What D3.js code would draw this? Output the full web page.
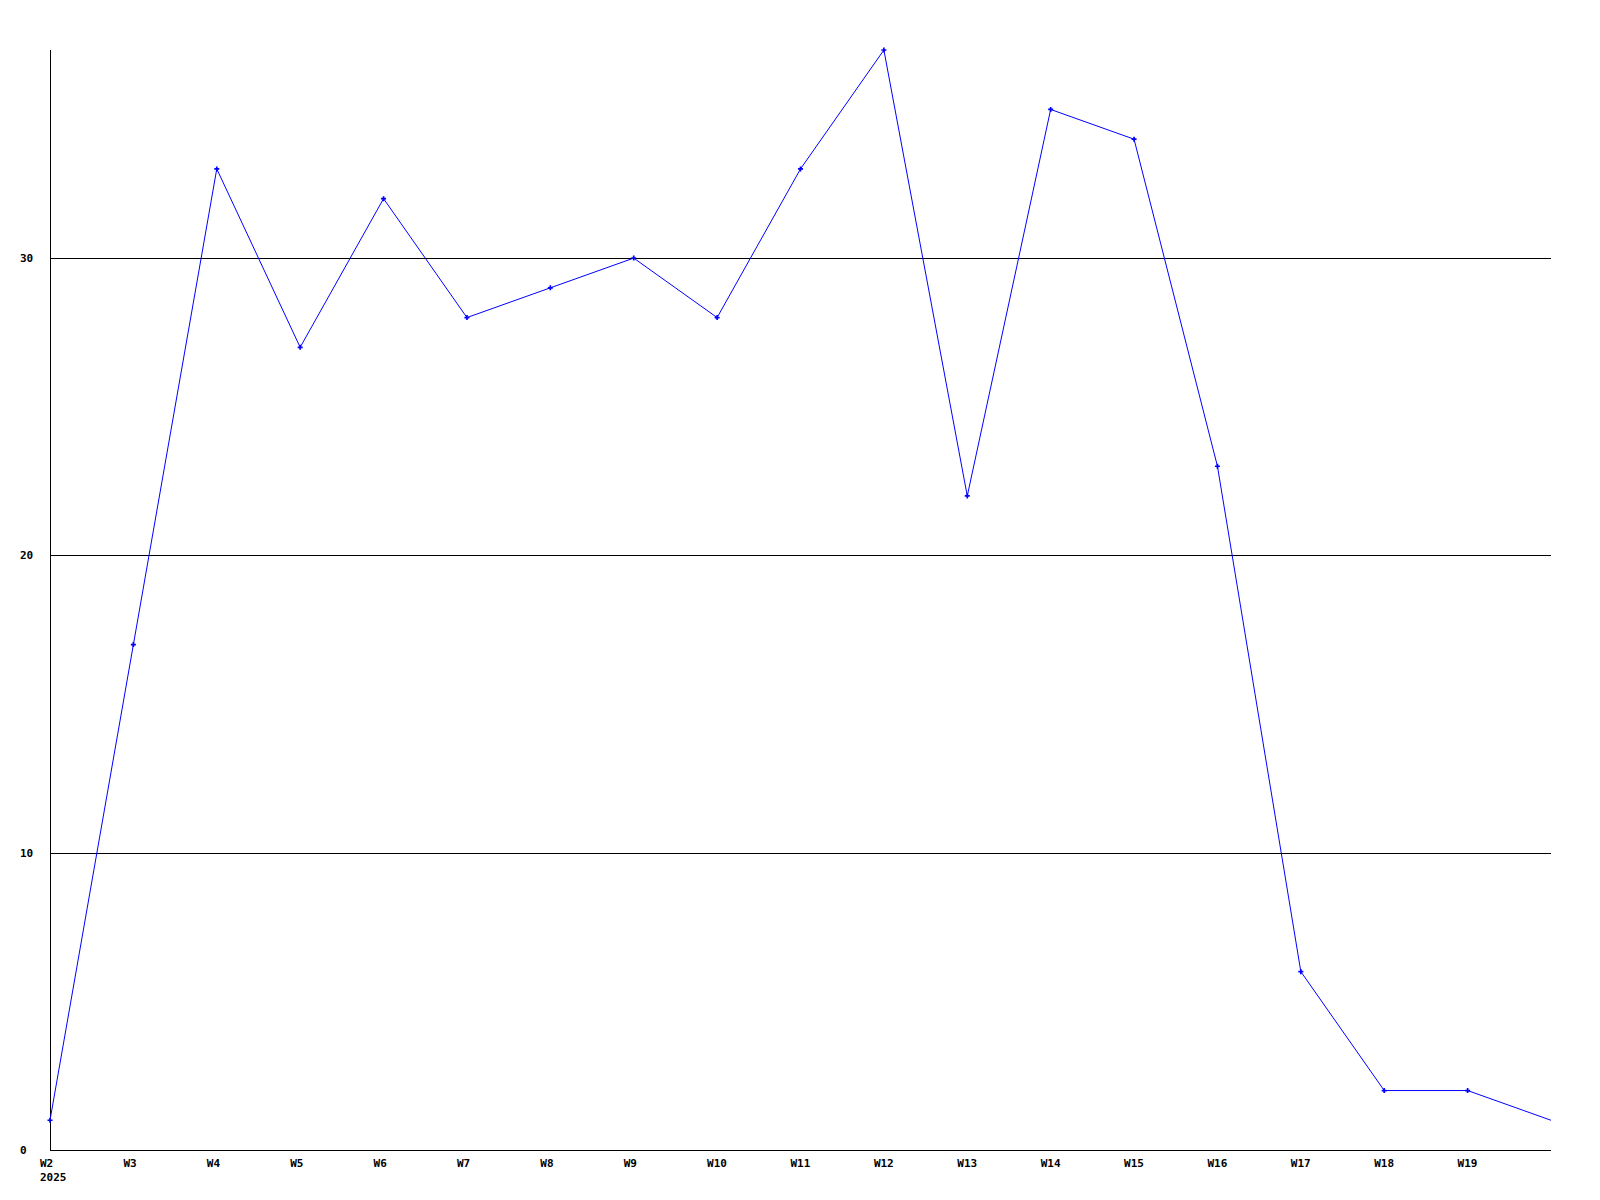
<!DOCTYPE html>
<html><head><meta charset="utf-8">
<script src="https://cdn.jsdelivr.net/npm/d3@7"></script>
<style>body{margin:0;background:#fff;} svg{display:block;}</style>
</head><body>
<script>
const weeks = ["W2","W3","W4","W5","W6","W7","W8","W9","W10","W11","W12","W13","W14","W15","W16","W17","W18","W19","W20"];
const values = [1,17,33,27,32,28,29,30,28,33,37,22,35,34,23,6,2,2,1];
const yTicks = [0,10,20,30];
const yearLabel = "2025";

const W = 1600, H = 1200;
const svg = d3.select("body").append("svg").attr("width", W).attr("height", H);
const x = d3.scalePoint().domain(weeks).range([50, 1551]);
const y = d3.scaleLinear().domain([0, 37]).range([1150, 50]);
const font = "'DejaVu Sans Mono', monospace";
const fs = 11;

// gridlines
svg.append("g").selectAll("line").data(yTicks.filter(d => d > 0)).join("line")
  .attr("x1", 50).attr("x2", 1551)
  .attr("y1", d => Math.round(y(d)) + 0.5).attr("y2", d => Math.round(y(d)) + 0.5)
  .attr("stroke", "#000").attr("stroke-width", 1).attr("shape-rendering", "crispEdges");

// axes lines
svg.append("line").attr("x1", 50.5).attr("x2", 50.5).attr("y1", y(37)).attr("y2", 1150.5)
  .attr("stroke", "#000").attr("shape-rendering", "crispEdges");
svg.append("line").attr("x1", 50).attr("x2", 1551).attr("y1", 1150.5).attr("y2", 1150.5)
  .attr("stroke", "#000").attr("shape-rendering", "crispEdges");

// y labels
svg.append("g").selectAll("text").data(yTicks).join("text")
  .attr("x", 20).attr("y", d => y(d)).attr("dy", "0.35em")
  .attr("font-family", font).attr("font-size", fs).attr("font-weight", "bold")
  .text(d => d);

// x labels (last point unlabeled)
svg.append("g").selectAll("text").data(weeks.slice(0, -1)).join("text")
  .attr("x", d => x(d) - 10).attr("y", 1167)
  .attr("font-family", font).attr("font-size", fs).attr("font-weight", "bold")
  .text(d => d);
svg.append("text").attr("x", 40).attr("y", 1181)
  .attr("font-family", font).attr("font-size", fs).attr("font-weight", "bold")
  .text(yearLabel);

// line
const data = weeks.map((w, i) => ({w, v: values[i]}));
svg.append("path").datum(data)
  .attr("fill", "none").attr("stroke", "#0000ff").attr("stroke-width", 1)
  .attr("d", d3.line().x(d => x(d.w)).y(d => y(d.v)));

// markers
svg.append("g").selectAll("path").data(data.slice(0, -1)).join("path")
  .attr("transform", d => `translate(${x(d.w)},${y(d.v)})`)
  .attr("d", d3.symbol().type(d3.symbolCross).size(14))
  .attr("fill", "#0000ff");
</script>
</body></html>
